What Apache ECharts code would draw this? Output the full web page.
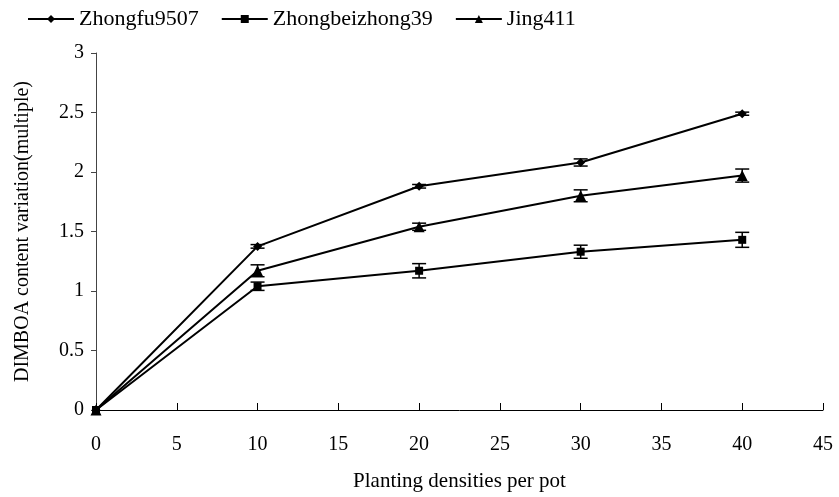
<!DOCTYPE html>
<html>
<head>
<meta charset="utf-8">
<script src="https://cdn.jsdelivr.net/npm/echarts@6/dist/echarts.min.js"></script>
<style>
  html, body { margin: 0; padding: 0; background: #fff; }
  #chart { width: 839px; height: 497px; }
</style>
</head>
<body>
<div id="chart"></div>
<script>
// planting densities per pot
const densities = [0, 10, 20, 30, 40]

const zhongfu = [0, 1.375, 1.88, 2.08, 2.49]
const zhongfuErr = [0, 0.015, 0.015, 0.03, 0.013]

const zhongbei = [0, 1.04, 1.17, 1.33, 1.43]
const zhongbeiErr = [0, 0.035, 0.06, 0.055, 0.063]

const jing = [0, 1.17, 1.54, 1.80, 1.97]
const jingErr = [0, 0.05, 0.03, 0.05, 0.055]

const font = 'Liberation Serif'

function pairs(ys) {
  return densities.map((x, i) => [x, ys[i]])
}

function errSeries(ys, errs) {
  return {
    type: 'custom',
    silent: true,
    z: 5,
    data: densities.map((x, i) => [x, ys[i], errs[i]]),
    renderItem(params, api) {
      const x = api.value(0), y = api.value(1), e = api.value(2)
      if (!e) return
      const lo = api.coord([x, y - e])
      const hi = api.coord([x, y + e])
      const w = 7
      const style = { stroke: '#000', lineWidth: 1.5 }
      return {
        type: 'group',
        children: [
          { type: 'line', shape: { x1: lo[0], y1: lo[1], x2: hi[0], y2: hi[1] }, style },
          { type: 'line', shape: { x1: lo[0] - w, y1: lo[1], x2: lo[0] + w, y2: lo[1] }, style },
          { type: 'line', shape: { x1: hi[0] - w, y1: hi[1], x2: hi[0] + w, y2: hi[1] }, style }
        ]
      }
    }
  }
}

function lineSeries(name, ys, symbol, size, z) {
  return {
    name,
    type: 'line',
    data: pairs(ys),
    symbol,
    symbolSize: size,
    z,
    lineStyle: { color: '#000', width: 2 },
    itemStyle: { color: '#000' }
  }
}

const chart = echarts.init(document.getElementById('chart'))
chart.setOption({
  animation: false,
  textStyle: { fontFamily: font },
  legend: {
    left: 22,
    top: 3,
    itemWidth: 46,
    itemHeight: 10,
    itemGap: 22,
    textStyle: { fontFamily: font, fontSize: 22, color: '#000' },
    data: ['Zhongfu9507', 'Zhongbeizhong39', 'Jing411']
  },
  grid: { left: 96, right: 16, top: 53, bottom: 86 },
  xAxis: {
    type: 'value',
    min: 0,
    max: 45,
    interval: 5,
    name: 'Planting densities per pot',
    nameLocation: 'middle',
    nameGap: 61,
    nameTextStyle: { fontFamily: font, fontSize: 21, color: '#000' },
    axisLine: { lineStyle: { color: '#000', width: 1 } },
    axisTick: { inside: true, length: 7, lineStyle: { color: '#000' } },
    axisLabel: { fontFamily: font, fontSize: 20, color: '#000', margin: 25 },
    splitLine: { show: false }
  },
  yAxis: {
    type: 'value',
    min: 0,
    max: 3,
    interval: 0.5,
    name: 'DIMBOA content variation(multiple)',
    nameLocation: 'middle',
    nameGap: 63,
    nameTextStyle: { fontFamily: font, fontSize: 20, color: '#000' },
    axisLine: { show: true, lineStyle: { color: '#444', width: 1 } },
    axisTick: { show: true, length: 5, lineStyle: { color: '#444' } },
    axisLabel: { fontFamily: font, fontSize: 20, color: '#000', margin: 12 },
    splitLine: { show: false }
  },
  series: [
    lineSeries('Zhongfu9507', zhongfu, 'diamond', 9, 3),
    lineSeries('Zhongbeizhong39', zhongbei, 'rect', 8, 4),
    lineSeries('Jing411', jing, 'triangle', 11, 3),
    errSeries(zhongfu, zhongfuErr),
    errSeries(zhongbei, zhongbeiErr),
    errSeries(jing, jingErr)
  ]
})
</script>
</body>
</html>
